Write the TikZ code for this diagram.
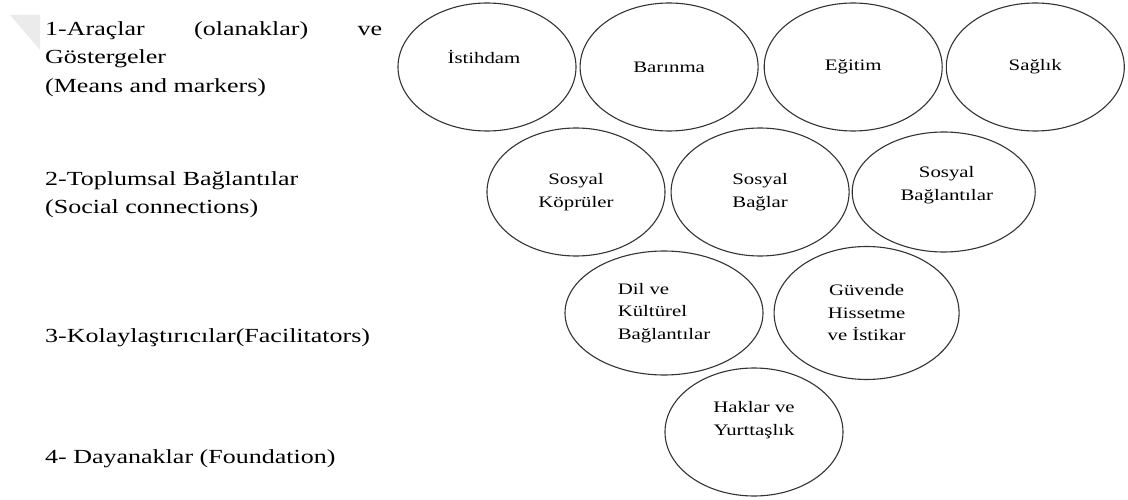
\documentclass[tikz,border=0pt]{standalone}
\usepackage{fontspec}
\setmainfont{Liberation Serif}[FakeStretch=1.3]
\usetikzlibrary{positioning,shapes.geometric}

\begin{document}
\begin{tikzpicture}[x=1pt, y=-1pt,
    bubble/.style = {draw=black!80, line width=1.1pt, ellipse, minimum width=178pt, minimum height=128pt, inner sep=0pt, align=center, font=\fontsize{16}{22.5}\selectfont},
    words/.style = {inner sep=0pt, align=center, font=\fontsize{16}{22.5}\selectfont},
    level/.style = {anchor=north west, inner sep=0pt, align=left, font=\fontsize{20}{28.5}\selectfont}]
    \useasboundingbox (0,0) rectangle (1128,500);
    \fill[black!8] (10,15) -- (40,15) -- (40,50) -- cycle;
    \node[level] (lev1) at (45,21) {\hbox to 337pt{1-Araçlar\hfill(olanaklar)\hfill ve}\\Göstergeler\\(Means and markers)};
    \node[level] (lev2) at (45,171) {2-Toplumsal Bağlantılar\\(Social connections)};
    \node[level, anchor=base west] (lev3) at (45,342) {3-Kolaylaştırıcılar(Facilitators)};
    \node[level, anchor=base west] (lev4) at (45,463) {4- Dayanaklar (Foundation)};
    \node[bubble] (ist) at (487,67) {};
    \node[words] (istT) at ([xshift=-3pt, yshift=10pt]ist.center) {İstihdam};
    \node[bubble] (bar) [right = 3pt of ist] {Barınma};
    \node[bubble] (egt) [right = 5pt of bar] {Eğitim};
    \node[bubble] (sag) [right = 3pt of egt] {Sağlık};
    \node[bubble] (kop) at (576,192) {Sosyal\\Köprüler};
    \node[bubble] (bag) [right = 5pt of kop] {Sosyal\\Bağlar};
    \node[bubble, minimum width=183pt, minimum height=120pt] (bgl) [right = 2pt of bag] {};
    \node[words] (bglT) at ([xshift=3pt, yshift=7pt]bgl.center) {Sosyal\\Bağlantılar};
    \node[bubble, minimum width=198pt, minimum height=124pt, align=left] (dil) at (664,313) {Dil ve\\Kültürel\\Bağlantılar};
    \node[bubble, minimum width=185pt, minimum height=133pt] (guv) [right = 10pt of dil] {Güvende\\Hissetme\\ve İstikar};
    \node[bubble] (hak) at (754,432) {};
    \node[words] (hakT) at ([yshift=12pt]hak.center) {Haklar ve\\Yurttaşlık};
\end{tikzpicture}
\end{document}
